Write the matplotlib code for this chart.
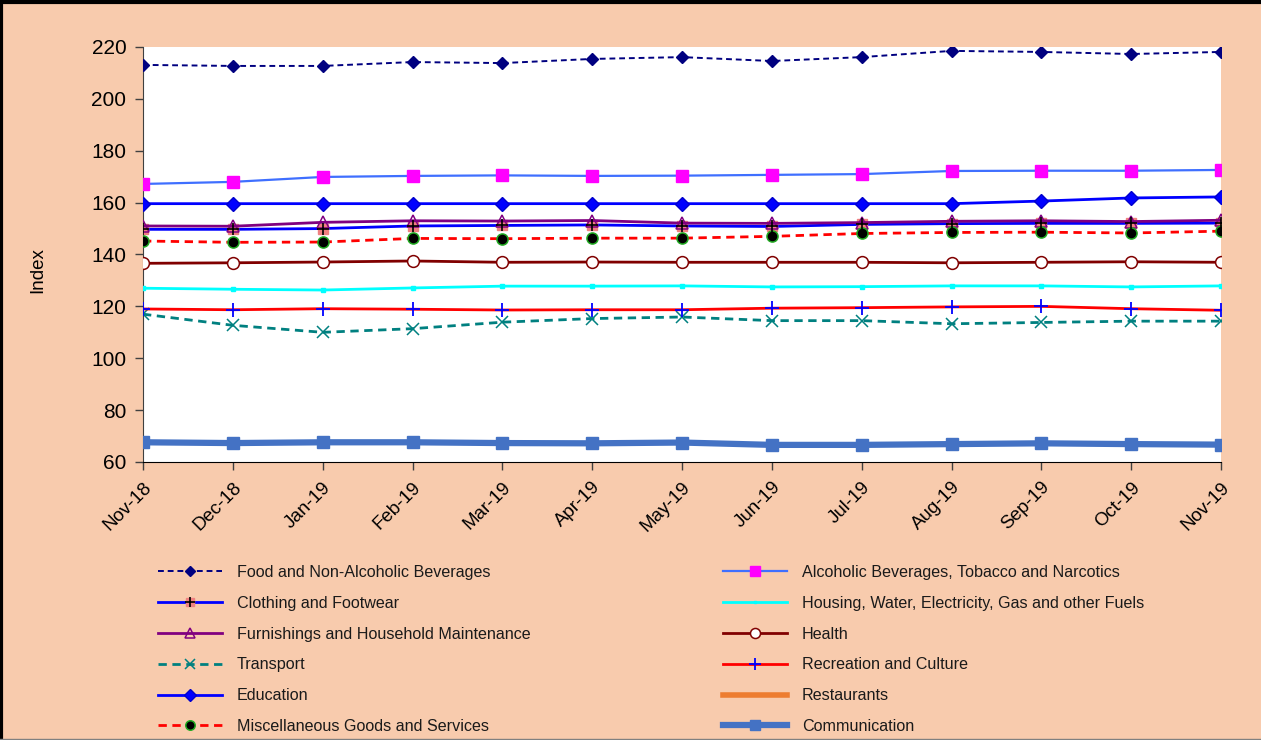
import matplotlib
matplotlib.use("Agg")
import matplotlib.pyplot as plt
from matplotlib.lines import Line2D
from matplotlib.legend_handler import HandlerTuple
import numpy as np

plt.rcParams['font.family'] = ['Liberation Sans', 'DejaVu Sans']

months = ["Nov-18", "Dec-18", "Jan-19", "Feb-19", "Mar-19", "Apr-19", "May-19",
          "Jun-19", "Jul-19", "Aug-19", "Sep-19", "Oct-19", "Nov-19"]

food = [213.1, 212.7, 212.7, 214.2, 213.8, 215.4, 216.1, 214.6, 216.1, 218.5, 218.1, 217.3, 218.1]
alcohol = [167.2, 168.0, 169.9, 170.3, 170.5, 170.3, 170.4, 170.7, 171.0, 172.2, 172.3, 172.3, 172.6]
clothing = [149.7, 149.7, 150.0, 151.0, 151.2, 151.4, 151.0, 150.8, 151.6, 151.9, 152.0, 152.0, 152.1]
housing = [127.0, 126.6, 126.3, 127.1, 127.8, 127.8, 127.9, 127.5, 127.6, 127.9, 127.9, 127.5, 127.9]
furnishings = [151.0, 150.9, 152.4, 153.0, 152.9, 153.1, 152.1, 152.0, 152.3, 152.8, 153.0, 152.7, 153.2]
health = [136.6, 136.8, 137.1, 137.5, 137.0, 137.1, 137.0, 137.0, 137.0, 136.8, 137.0, 137.2, 137.0]
transport = [117.0, 112.7, 110.0, 111.4, 113.9, 115.3, 115.9, 114.5, 114.5, 113.3, 113.8, 114.3, 114.3]
recreation = [119.0, 118.7, 119.1, 118.9, 118.6, 118.7, 118.7, 119.3, 119.5, 119.8, 120.0, 119.1, 118.5]
education = [159.6, 159.6, 159.6, 159.6, 159.6, 159.6, 159.6, 159.6, 159.6, 159.6, 160.6, 161.8, 162.2]
restaurants = [np.nan] * 13
misc = [145.2, 144.7, 144.8, 146.2, 146.1, 146.3, 146.3, 147.0, 148.1, 148.5, 148.6, 148.3, 149.0]
communication = [67.6, 67.3, 67.6, 67.6, 67.3, 67.2, 67.5, 66.6, 66.6, 66.9, 67.2, 66.9, 66.7]

BG = '#F8CBAD'
fig = plt.figure(figsize=(12.61, 7.40), dpi=100, facecolor=BG)
ax = fig.add_axes([143/1261, 1-462/740, (1221-143)/1261, (462-47)/740])
ax.set_facecolor('white')
x = np.arange(len(months))

h = {}
h['food'] = ax.plot(x, food, color='#000080', ls=(0, (3, 2)), lw=1.4, marker='D', ms=6, mfc='#000080', mec='#000080', zorder=5)[0]
h['alcohol'] = ax.plot(x, alcohol, color='#3F6FFF', lw=1.6, marker='s', ms=8.5, mfc='#FF00FF', mec='#FF00FF', zorder=5)[0]
h['clothing_sq'] = ax.plot(x, clothing, color='#0000FF', lw=2, marker='s', ms=7, mfc='#F08080', mec='#F08080', zorder=3)[0]
h['clothing_pl'] = ax.plot(x, clothing, color='none', lw=0, marker='+', ms=8, mew=1.2, mec='black', zorder=7)[0]
h['housing'] = ax.plot(x, housing, color='#00FFFF', lw=2, marker='s', ms=2.5, mfc='#00FFFF', mec='#00FFFF', zorder=4)[0]
h['furnishings'] = ax.plot(x, furnishings, color='#800080', lw=2, marker='^', ms=8, mfc='none', mec='#800080', mew=1.1, zorder=6)[0]
h['health'] = ax.plot(x, health, color='#800000', lw=2, marker='o', ms=8.5, mfc='white', mec='#800000', mew=1.1, zorder=5)[0]
h['transport'] = ax.plot(x, transport, color='#008080', ls=(0, (3, 2)), lw=2, marker='x', ms=8, mew=1.1, mec='#008080', zorder=5)[0]
h['recreation'] = ax.plot(x, recreation, color='#FF0000', lw=2, marker='+', ms=10, mew=1.3, mec='#0000FF', zorder=5)[0]
h['education'] = ax.plot(x, education, color='#0000FF', lw=2, marker='D', ms=7, mfc='#0000FF', mec='#0000CC', zorder=5)[0]
h['restaurants'] = ax.plot(x, restaurants, color='#ED7D31', lw=4, zorder=2)[0]
h['misc'] = ax.plot(x, misc, color='#FF0000', ls=(0, (3, 2)), lw=2, marker='o', ms=8, mfc='black', mec='#22AA22', mew=1.1, zorder=6)[0]
h['comm'] = ax.plot(x, communication, color='#4472C4', lw=4.5, marker='s', ms=8.5, mfc='#4472C4', mec='#4472C4', zorder=5)[0]

ax.set_xlim(0, len(months) - 1)
ax.set_ylim(60, 220)
ax.set_yticks(np.arange(60, 221, 20))
ax.set_xticks(x)
ax.set_xticklabels(months, rotation=45, ha='right', rotation_mode='anchor', fontsize=13.5)
ax.tick_params(axis='y', labelsize=15, direction='out', length=6, width=1, color='#404040', pad=6)
ax.tick_params(axis='x', direction='out', length=6, width=1, color='#404040', pad=6)
for s in ['top', 'right']:
    ax.spines[s].set_visible(False)
ax.spines['left'].set_color('#404040')
ax.spines['bottom'].set_color('black')
fig.text(38/1261, 1-270/740, 'Index', rotation=90, ha='center', va='center', fontsize=13.5)

left_h = [h['food'], (h['clothing_sq'], h['clothing_pl']), h['furnishings'], h['transport'], h['education'], h['misc']]
left_l = ["Food and Non-Alcoholic Beverages", "Clothing and Footwear", "Furnishings and Household Maintenance",
          "Transport", "Education", "Miscellaneous Goods and Services"]
right_h = [h['alcohol'], h['housing'], h['health'], h['recreation'], h['restaurants'], h['comm']]
right_l = ["Alcoholic Beverages, Tobacco and Narcotics", "Housing, Water, Electricity, Gas and other Fuels",
           "Health", "Recreation and Culture", "Restaurants", "Communication"]

common = dict(frameon=False, fontsize=11.6, handlelength=4.0, handletextpad=0.9, labelspacing=0.98,
              borderpad=0, borderaxespad=0, loc='upper left', markerscale=0.85,
              handler_map={tuple: HandlerTuple(ndivide=1, pad=0)})
leg1 = fig.legend(left_h, left_l, bbox_to_anchor=(158/1261, 1-565/740), **common)
leg2 = fig.legend(right_h, right_l, bbox_to_anchor=(723/1261, 1-565/740), **common)
for t in leg1.get_texts() + leg2.get_texts():
    t.set_color('#1a1a1a')

fig.add_artist(Line2D([0, 1], [1 - 1.5/740, 1 - 1.5/740], transform=fig.transFigure, color='black', lw=3))
fig.add_artist(Line2D([1.5/1261, 1.5/1261], [0, 1], transform=fig.transFigure, color='black', lw=3))
fig.add_artist(Line2D([0, 1], [1/740, 1/740], transform=fig.transFigure, color='#808080', lw=1))

fig.savefig('out.png', dpi=100, facecolor=BG)
